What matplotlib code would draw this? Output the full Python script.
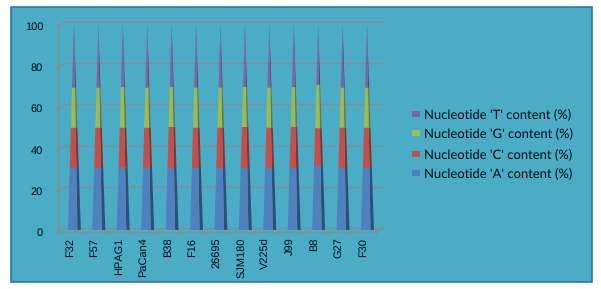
import matplotlib
matplotlib.use("Agg")
import matplotlib.pyplot as plt
from matplotlib.patches import Rectangle, Polygon
from matplotlib.lines import Line2D
from matplotlib.transforms import Affine2D, IdentityTransform
import numpy as np

plt.rcParams["text.hinting"] = "none"
plt.rcParams["text.hinting_factor"] = 1

categories = ["F32", "F57", "HPAG1", "PaCan4", "B38", "F16", "26695", "SJM180", "V225d", "J99", "B8", "G27", "F30"]
pct_a = [30.1, 30.1, 30.2, 30.1, 30.1, 30.1, 30.1, 30.1, 30.1, 30.1, 30.9, 30.1, 30.1]
pct_c = [19.6, 19.6, 19.5, 19.6, 19.9, 19.6, 19.6, 19.9, 19.6, 19.9, 18.5, 19.6, 19.6]
pct_g = [19.4, 19.4, 19.7, 19.4, 19.4, 19.4, 19.4, 19.4, 19.4, 19.4, 21.1, 19.4, 19.4]
pct_t = [30.9, 30.9, 30.6, 30.9, 30.6, 30.9, 30.9, 30.6, 30.9, 30.6, 29.5, 30.9, 30.9]
series_names = ["Nucleotide 'A' content (%)", "Nucleotide 'C' content (%)",
                "Nucleotide 'G' content (%)", "Nucleotide 'T' content (%)"]
series_colors = ["#4F81BD", "#C0504D", "#9BBB59", "#8064A2"]
side_colors = ["#2F4F78", "#7E3533", "#66793C", "#52406A"]
y_ticks = [0, 20, 40, 60, 80, 100]

W, H = 601, 289
PANEL = "#4BACC6"
GRID = "#858D92"
TEXT = "#030A10"
fx = lambda p: p / W
fy = lambda p: 1 - p / H

fig = plt.figure(figsize=(W / 100, H / 100), dpi=100, facecolor="white")
fig.add_artist(Rectangle((fx(11), fy(282)), fx(581), 275 / H, transform=fig.transFigure,
                         facecolor=PANEL, edgecolor="#2E75A6", linewidth=1.2, zorder=-5))

L, R, T, B = 58, 375.5, 26, 232
ax = fig.add_axes([fx(L), fy(B), (R - L) / W, (B - T) / H])
ax.patch.set_visible(False)
n = len(categories)
ax.set_xlim(-0.5, n - 0.5)
ax.set_ylim(0, 100)
for s in ["top", "right"]:
    ax.spines[s].set_visible(False)
for s in ["left", "bottom"]:
    ax.spines[s].set_color(GRID)
    ax.spines[s].set_linewidth(1)

back_tr = ax.transData + Affine2D().translate(8, 4)
mid_tr = ax.transData + Affine2D().translate(3.7, 2)

for v in y_ticks:
    ax.plot([-0.5, n - 0.5], [v, v], color=GRID, lw=1, transform=back_tr, clip_on=False, zorder=1)
    p0 = ax.transData.transform((-0.5, v))
    ax.add_line(Line2D([p0[0], p0[0] + 8], [p0[1], p0[1] + 4], color=GRID, lw=1,
                       transform=IdentityTransform(), clip_on=False, zorder=1))
p1 = ax.transData.transform((n - 0.5, 0))
ax.add_line(Line2D([p1[0], p1[0] + 8], [p1[1], p1[1] + 4], color=GRID, lw=1,
                   transform=IdentityTransform(), clip_on=False, zorder=1))

layers = [pct_a, pct_c, pct_g, pct_t]
bottoms = np.zeros(n)
x_pos = np.arange(n)
HL, HM, HR = 0.245, 0.143, 0.285
for vals, col, dark in zip(layers, series_colors, side_colors):
    tops = bottoms + np.array(vals)
    for x, b, t in zip(x_pos, bottoms, tops):
        fb, ft = 1 - b / 100, 1 - t / 100
        ax.add_patch(Polygon([(x + HM * fb, b), (x + HR * fb, b), (x + HR * ft, t), (x + HM * ft, t)],
                             closed=True, facecolor=dark, edgecolor="none",
                             transform=mid_tr, clip_on=False, zorder=3))
        ax.add_patch(Polygon([(x - HL * fb, b), (x + HM * fb, b), (x + HM * ft, t), (x - HL * ft, t)],
                             closed=True, facecolor=col, edgecolor="none",
                             transform=mid_tr, clip_on=False, zorder=4))
    bottoms = tops

ax.set_yticks(y_ticks)
ax.set_yticklabels([str(v) for v in y_ticks], fontsize=8.2, family="Liberation Sans", color=TEXT)
ax.tick_params(axis="y", length=2.2, color=GRID, width=1, pad=8.5)
ax.set_xticks(np.arange(-0.5, n, 1))
ax.set_xticklabels([])
ax.set_xticks(x_pos, minor=True)
ax.set_xticklabels(categories, minor=True, rotation=90, fontsize=7.8, family="Liberation Sans", color=TEXT)
ax.tick_params(axis="x", which="major", length=2.2, color=GRID, width=1)
ax.tick_params(axis="x", which="minor", length=0, pad=4)

legend_y = [173, 154, 133, 114]
for name, col, y in zip(series_names, series_colors, legend_y):
    fig.add_artist(Rectangle((fx(412), fy(y + 3)), 8 / W, 6 / H, transform=fig.transFigure,
                             facecolor=col, edgecolor="none", zorder=-4))
    fig.text(fx(424.5), fy(y), name, fontsize=9, family="Lato", color=TEXT, va="center", ha="left")

fig.savefig("out.png", dpi=100, facecolor="white")
